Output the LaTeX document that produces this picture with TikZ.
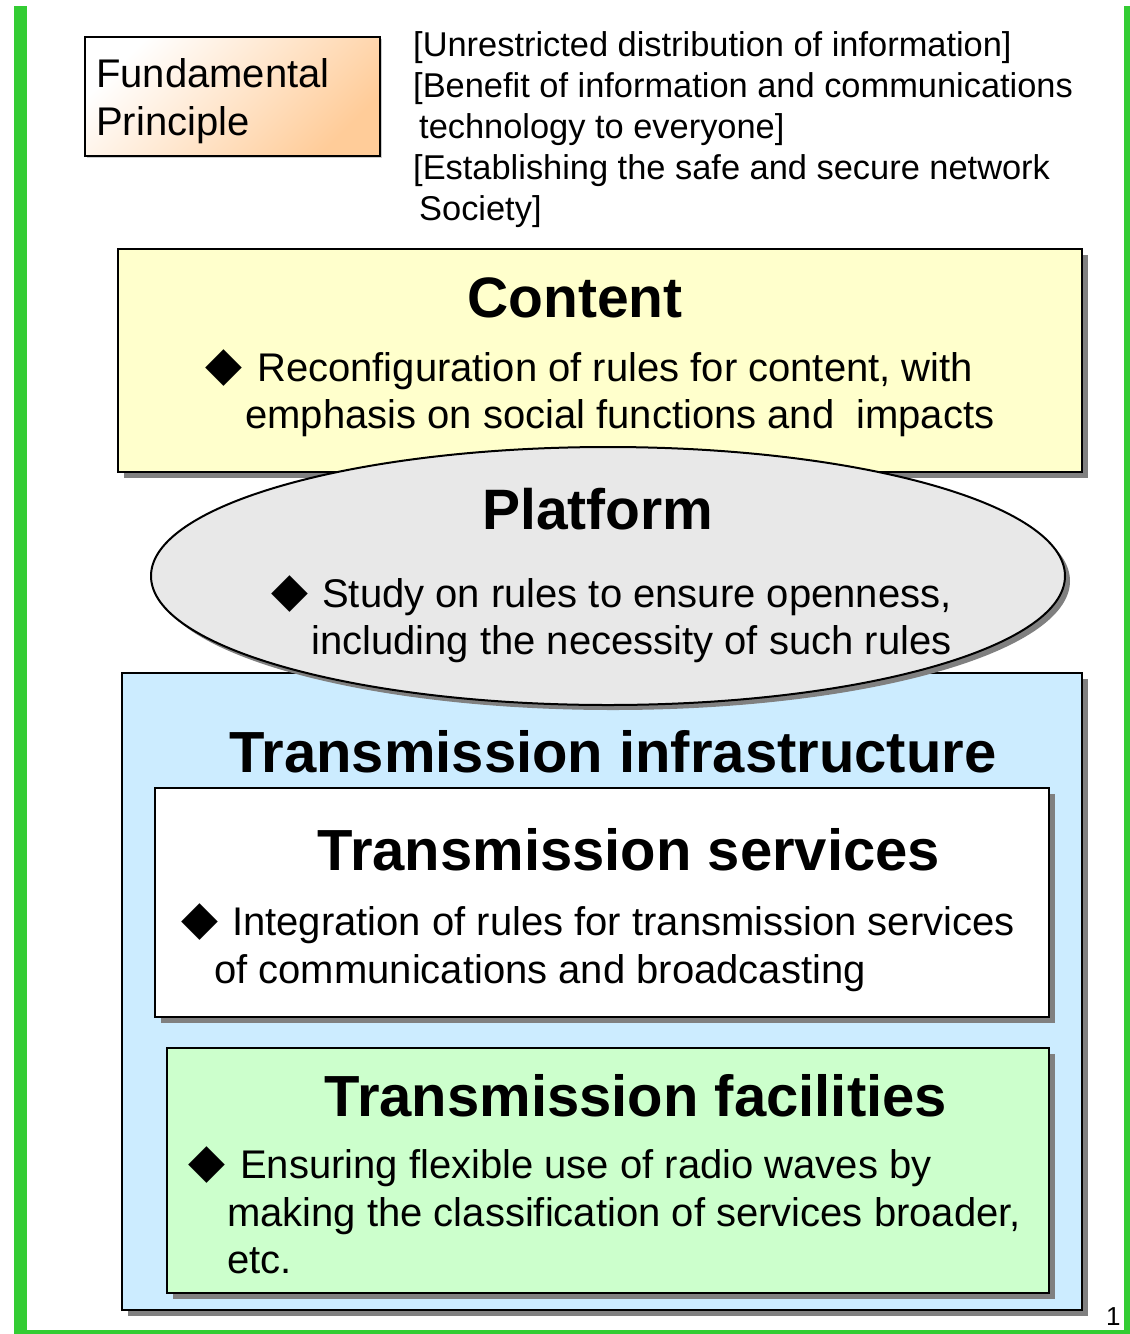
\documentclass[tikz,border=0pt]{standalone}
\usepackage{fontspec}
\setmainfont{Liberation Sans}
\newfontfamily\symfont{DejaVu Sans}
\usetikzlibrary{shadows,shapes.geometric}
\definecolor{framegreen}{HTML}{33CC33}
\definecolor{contentfill}{HTML}{FFFFCC}
\definecolor{platfill}{HTML}{E8E8E8}
\definecolor{infrafill}{HTML}{CCECFF}
\definecolor{facfill}{HTML}{CCFFCC}
\definecolor{peach}{HTML}{FFCC99}
\definecolor{shadowgray}{HTML}{808080}
\begin{document}
\begin{tikzpicture}[x=1pt,y=-1pt,
  layerbox/.style={draw=black, line width=2pt, rectangle, inner sep=0pt,
    general shadow={fill=shadowgray, shadow xshift=6pt, shadow yshift=-6pt}},
  bodytext/.style={anchor=base west, inner sep=0pt, font=\fontsize{40}{48}\selectfont},
  titletext/.style={anchor=base, inner sep=0pt, font=\fontsize{57}{68}\selectfont\bfseries},
  bigtitle/.style={titletext, font=\fontsize{58}{68}\selectfont\bfseries},
  bulletmark/.style={anchor=base west, inner sep=0pt, font=\symfont\fontsize{48}{50}\selectfont},
  notetext/.style={anchor=base west, inner sep=0pt, font=\fontsize{34.4}{41}\selectfont}]

\useasboundingbox (0,0) rectangle (1130,1334);
\fill[white] (0,0) rectangle (1130,1334);

% green frame
\fill[framegreen] (14,6) rectangle (27,1334);
\fill[framegreen] (1124,6) rectangle (1130,1334);
\fill[framegreen] (14,1330) rectangle (1130,1334);

% fundamental principle box
\node[draw=black, line width=1.5pt, rectangle, inner sep=0pt,
  shading=axis, top color=white, bottom color=peach, shading angle=45,
  minimum width=295pt, minimum height=119pt,
  general shadow={fill=gray!40, shadow xshift=2pt, shadow yshift=-2pt}]
  (fund) at (232.5,96.5) {};
\node[bodytext] (fund1) at (96,87) {Fundamental};
\node[bodytext] (fund2) at (96,135) {Principle};

\node[notetext] (n1) at (413,56) {[Unrestricted distribution of information]};
\node[notetext] (n2) at (413,97) {[Benefit of information and communications};
\node[notetext] (n3) at (419,138) {technology to everyone]};
\node[notetext] (n4) at (413,179) {[Establishing the safe and secure network};
\node[notetext] (n5) at (419,220) {Society]};

% layer boxes
\node[layerbox, fill=contentfill, minimum width=964pt, minimum height=223pt]
  (content) at (600,360.5) {};
\node[layerbox, fill=infrafill, minimum width=960pt, minimum height=637pt]
  (infra) at (602,991.5) {};
\node[layerbox, fill=white, minimum width=894pt, minimum height=229pt]
  (services) at (602,902.5) {};
\node[layerbox, fill=facfill, minimum width=882pt, minimum height=245pt]
  (facilities) at (608,1170.5) {};
\node[draw=black, line width=2pt, ellipse, inner sep=0pt, fill=platfill,
  minimum width=914pt, minimum height=258pt,
  general shadow={fill=shadowgray, shadow xshift=5pt, shadow yshift=-5pt}]
  (platform) at (608,576) {};

% content text
\node[titletext] (contentT) at (575,317) {Content};
\node[bulletmark] (cb) at (205,380) {◆};
\node[bodytext] (c1) at (257,381) {Reconfiguration of rules for content, with};
\node[bodytext] (c2) at (245,428) {emphasis on social functions and\ \ impacts};

% platform text
\node[titletext] (platT) at (598,529) {Platform};
\node[bulletmark] (pb) at (271,606) {◆};
\node[bodytext] (p1) at (322,607) {Study on rules to ensure openness,};
\node[bodytext] (p2) at (311,654) {including the necessity of such rules};

% infrastructure text
\node[bigtitle] (infraT) at (613,772) {Transmission infrastructure};

\node[bigtitle] (servT) at (629,870) {Transmission services};
\node[bulletmark] (sb) at (181,934) {◆};
\node[bodytext] (s1) at (232,935) {Integration of rules for transmission services};
\node[bodytext] (s2) at (214,983) {of communications and broadcasting};

\node[bigtitle] (facT) at (636,1116) {Transmission facilities};
\node[bulletmark] (fb) at (188,1177) {◆};
\node[bodytext] (f1) at (240,1178) {Ensuring flexible use of radio waves by};
\node[bodytext] (f2) at (227,1226) {making the classification of services broader,};
\node[bodytext] (f3) at (227,1273) {etc.};

\node[anchor=base west, inner sep=0pt, font=\fontsize{26}{30}\selectfont] (pagenum) at (1106,1325) {1};
\end{tikzpicture}
\end{document}
